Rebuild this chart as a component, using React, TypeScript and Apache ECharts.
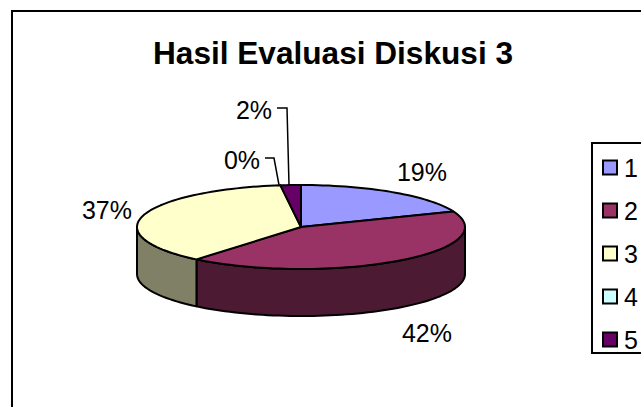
import React, { useEffect, useRef } from "react";
import * as echarts from "echarts";

const titleText = "Hasil Evaluasi Diskusi 3";
const categories = ["1", "2", "3", "4", "5"];
const percentValues = [19, 42, 37, 0, 2];
const topColors = ["#9999FF", "#993366", "#FFFFCC", "#CCFFFF", "#660066"];
const wallColors = ["#4D4D80", "#4D1A33", "#808066", "#668080", "#330033"];

// Layout of the flattened 3D pie
const CX = 301;
const CY = 227;
const RX = 164;
const RY = 42;
const DEPTH = 47;
const FONT = "Liberation Sans, Arial, sans-serif";
const labelSpots = [
  { x: 422, y: 172 },
  { x: 427, y: 333 },
  { x: 107, y: 210 },
  { x: 242, y: 160 },
  { x: 254, y: 110 },
];
const leaders: (number[][] | null)[] = [
  null,
  null,
  null,
  [[265, 158], [274, 158], [279, 185]],
  [[277, 108], [287, 108], [289, 185]],
];

function arc(a0: number, a1: number, dy: number) {
  const pts: number[][] = [];
  const steps = Math.max(2, Math.ceil((a1 - a0) / (Math.PI / 90)));
  for (let k = 0; k <= steps; k++) {
    const t = a0 + ((a1 - a0) * k) / steps;
    pts.push([CX + RX * Math.sin(t), CY - RY * Math.cos(t) + dy]);
  }
  return pts;
}

function makeSeries(idx: number) {
  const total = percentValues.reduce((s, v) => s + v, 0);
  const before = percentValues.slice(0, idx).reduce((s, v) => s + v, 0);
  return {
    type: "custom",
    name: categories[idx],
    coordinateSystem: "none",
    itemStyle: { color: topColors[idx] },
    data: [percentValues[idx]],
    silent: true,
    renderItem: (_p: any, api: any) => {
      const v = api.value(0) as number;
      const a0 = (before / total) * Math.PI * 2;
      const a1 = ((before + v) / total) * Math.PI * 2;
      const children: any[] = [];
      if (v > 0) {
        const w0 = Math.max(a0, Math.PI / 2);
        const w1 = Math.min(a1, (Math.PI * 3) / 2);
        if (w1 > w0) {
          const pts = arc(w0, w1, 0).concat(arc(w0, w1, DEPTH).reverse());
          children.push({
            type: "polygon",
            shape: { points: pts },
            style: { fill: wallColors[idx], stroke: "#000", lineWidth: 2, lineJoin: "round" },
          });
        }
        children.push({
          type: "polygon",
          shape: { points: [[CX, CY], ...arc(a0, a1, 0)] },
          style: { fill: topColors[idx], stroke: "#000", lineWidth: 2, lineJoin: "round" },
        });
      }
      const lead = leaders[idx];
      if (lead) {
        children.push({
          type: "polyline",
          shape: { points: lead },
          style: { fill: "none", stroke: "#000", lineWidth: 1.5 },
        });
      }
      children.push({
        type: "text",
        style: {
          text: `${v}%`,
          x: labelSpots[idx].x,
          y: labelSpots[idx].y,
          align: "center",
          verticalAlign: "middle",
          font: `25px ${FONT}`,
          fill: "#000",
        },
      });
      return { type: "group", children };
    },
  };
}

export default function App() {
  const ref = useRef<HTMLDivElement>(null);
  useEffect(() => {
    document.body.style.margin = "0";
    document.body.style.overflow = "hidden";
    const chart = echarts.init(ref.current!, null, { renderer: "svg" });
    chart.setOption({
      animation: false,
      backgroundColor: "#fff",
      title: {
        text: titleText,
        left: 328,
        top: 32,
        textAlign: "center",
        textStyle: { fontFamily: FONT, fontWeight: "bold", fontSize: 31.6, color: "#000" },
      },
      legend: {
        orient: "vertical",
        left: 602,
        top: 155,
        padding: 0,
        selectedMode: false,
        icon: "rect",
        itemWidth: 14,
        itemHeight: 14,
        itemGap: 18,
        itemStyle: { borderColor: "#000", borderWidth: 2 },
        textStyle: { fontFamily: FONT, fontSize: 25, color: "#000", padding: [0, 0, 0, 2] },
        data: categories.map((name, i) => ({
          name,
          itemStyle: { color: topColors[i], borderColor: "#000", borderWidth: 2 },
        })),
      },
      graphic: [
        {
          type: "rect",
          silent: true,
          shape: { x: 12, y: 11, width: 700, height: 500 },
          style: { fill: "none", stroke: "#000", lineWidth: 2 },
        },
        {
          type: "rect",
          silent: true,
          shape: { x: 592, y: 143, width: 100, height: 210 },
          style: { fill: "none", stroke: "#000", lineWidth: 2 },
        },
      ],
      series: categories.map((_, i) => makeSeries(i)),
    });
    return () => chart.dispose();
  }, []);
  return <div ref={ref} style={{ position: "absolute", left: 0, top: 0, width: 641, height: 407 }} />;
}
